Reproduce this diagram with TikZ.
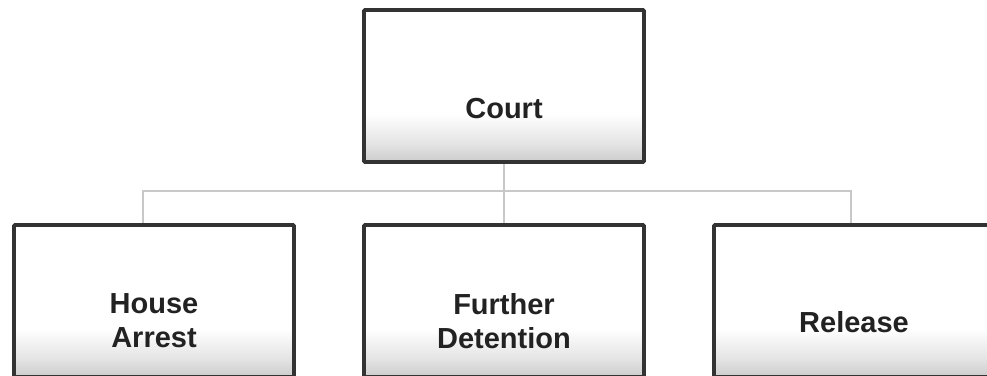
\documentclass[tikz,border=0pt]{standalone}
\usepackage{fontspec}
\setmainfont{Liberation Sans}
\definecolor{boxline}{HTML}{333333}
\definecolor{conn}{HTML}{C8C8C8}
\definecolor{txt}{HTML}{222222}
\definecolor{shadedark}{HTML}{CCCCCC}
\definecolor{shademid}{HTML}{E4E4E4}
\pgfdeclareverticalshading{boxshade}{100bp}{color(0bp)=(shadedark); color(25bp)=(shadedark); color(31bp)=(shademid); color(41bp)=(white); color(100bp)=(white)}
\tikzset{
  orgbox/.style={draw=boxline, line width=3.8pt, shading=boxshade, minimum width=280pt, minimum height=152pt, inner sep=0pt, rounded corners=1pt},
  boxlabel/.style={font=\bfseries\fontsize{29}{34}\selectfont, text=txt, align=center},
  link/.style={draw=conn, line width=2pt},
}
\begin{document}
\begin{tikzpicture}[x=1pt,y=-1pt]
\useasboundingbox (0,0) rectangle (987,375);
% boxes
\node[orgbox] (court) at (504,86) {};
\node[orgbox] (house) at (154,301) {};
\node[orgbox] (further) at (504,301) {};
\node[orgbox] (release) at (854,301) {};
% labels
\node[boxlabel] (lc) at ([yshift=-23pt]court.center) {Court};
\node[boxlabel] (lh) at ([yshift=-20pt]house.center) {House\\Arrest};
\node[boxlabel] (lf) at ([yshift=-20pt]further.center) {Further\\Detention};
\node[boxlabel] (lr) at ([yshift=-21pt]release.center) {Release};
% connectors
\coordinate (hub) at (504,191);
\draw[link] (court.south) -- (hub);
\draw[link] (hub) -| ([xshift=-11pt]house.north);
\draw[link] (hub) -- (further.north);
\draw[link] (hub) -| ([xshift=-3pt]release.north);
\end{tikzpicture}
\end{document}
